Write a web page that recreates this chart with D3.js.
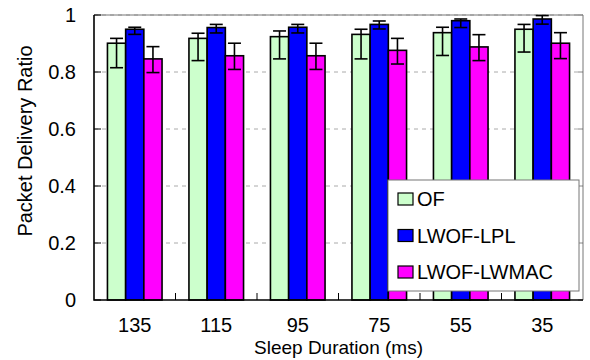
<!DOCTYPE html>
<html>
<head>
<meta charset="utf-8">
<script src="https://cdn.jsdelivr.net/npm/d3@7"></script>
<style>
  body { margin: 0; background: #fff; }
  svg { display: block; font-family: "Liberation Sans", Arial, sans-serif; }
</style>
</head>
<body>
<div id="chart"></div>
<script>
// sleep durations (ms) on the x axis
const groups = ["135", "115", "95", "75", "55", "35"];
const seriesNames = ["OF", "LWOF-LPL", "LWOF-LWMAC"];
const seriesColors = ["#ccffcc", "#0000ff", "#ff00ff"];

// packet delivery ratio, with error bar bounds
const ofVals  = [0.901, 0.918, 0.924, 0.932, 0.938, 0.950];
const ofLow   = [0.815, 0.840, 0.846, 0.846, 0.858, 0.870];
const ofHigh  = [0.918, 0.936, 0.944, 0.950, 0.957, 0.967];
const lplVals = [0.950, 0.956, 0.957, 0.967, 0.980, 0.986];
const lplLow  = [0.932, 0.937, 0.937, 0.951, 0.956, 0.968];
const lplHigh = [0.957, 0.967, 0.967, 0.979, 0.986, 0.998];
const macVals = [0.846, 0.857, 0.857, 0.876, 0.888, 0.901];
const macLow  = [0.798, 0.809, 0.809, 0.828, 0.840, 0.847];
const macHigh = [0.889, 0.901, 0.901, 0.918, 0.931, 0.938];

const yTicks = [0, 0.2, 0.4, 0.6, 0.8, 1];
const yTickLabels = ["0", "0.2", "0.4", "0.6", "0.8", "1"];

const seriesData = [
  { vals: ofVals, low: ofLow, high: ofHigh },
  { vals: lplVals, low: lplLow, high: lplHigh },
  { vals: macVals, low: macLow, high: macHigh }
];

const W = 590, H = 360;
const margin = { top: 15, right: 7, bottom: 60, left: 94 };
const width = W - margin.left - margin.right;
const height = H - margin.top - margin.bottom;

const svg = d3.select("#chart").append("svg")
  .attr("width", W)
  .attr("height", H);

const g = svg.append("g")
  .attr("transform", `translate(${margin.left},${margin.top})`);

const x0 = d3.scaleBand()
  .domain(groups)
  .range([0, width])
  .paddingInner(0.33)
  .paddingOuter(0.165);

const x1 = d3.scaleBand()
  .domain(d3.range(seriesNames.length))
  .range([0, x0.bandwidth()]);

const y = d3.scaleLinear().domain([0, 1]).range([height, 0]);

// grid lines
g.append("g")
  .selectAll("line")
  .data(yTicks.filter(d => d > 0))
  .join("line")
  .attr("x1", 0)
  .attr("x2", width)
  .attr("y1", d => y(d))
  .attr("y2", d => y(d))
  .attr("stroke", "#aaa")
  .attr("stroke-width", 1)
  .attr("stroke-dasharray", "4,4");

// border (top and right in gray)
g.append("path")
  .attr("d", `M0,0H${width}V${height}`)
  .attr("fill", "none")
  .attr("stroke", "#777")
  .attr("stroke-width", 1);

// tick marks on left and right
g.append("g")
  .selectAll("line")
  .data(yTicks)
  .join("line")
  .attr("x1", 0).attr("x2", 7)
  .attr("y1", d => y(d)).attr("y2", d => y(d))
  .attr("stroke", "#000");
g.append("g")
  .selectAll("line")
  .data(yTicks)
  .join("line")
  .attr("x1", width - 5).attr("x2", width)
  .attr("y1", d => y(d)).attr("y2", d => y(d))
  .attr("stroke", "#888");

// bars
const groupSel = g.selectAll(".grp")
  .data(groups)
  .join("g")
  .attr("class", "grp")
  .attr("transform", d => `translate(${x0(d)},0)`);

seriesData.forEach((s, si) => {
  groupSel.append("rect")
    .attr("x", x1(si))
    .attr("y", (d, i) => y(s.vals[i]))
    .attr("width", x1.bandwidth())
    .attr("height", (d, i) => y(0) - y(s.vals[i]))
    .attr("fill", seriesColors[si])
    .attr("stroke", "#000")
    .attr("stroke-width", 1.6);
});

// error bars
const capW = 13;
seriesData.forEach((s, si) => {
  const cx = x1(si) + x1.bandwidth() / 2;
  const eb = groupSel.append("g")
    .attr("stroke", "#000")
    .attr("stroke-width", 1.6);
  eb.append("line")
    .attr("x1", cx).attr("x2", cx)
    .attr("y1", (d, i) => y(s.low[i]))
    .attr("y2", (d, i) => y(s.high[i]));
  eb.append("line")
    .attr("x1", cx - capW / 2).attr("x2", cx + capW / 2)
    .attr("y1", (d, i) => y(s.low[i]))
    .attr("y2", (d, i) => y(s.low[i]));
  eb.append("line")
    .attr("x1", cx - capW / 2).attr("x2", cx + capW / 2)
    .attr("y1", (d, i) => y(s.high[i]))
    .attr("y2", (d, i) => y(s.high[i]));
});

// left and bottom axis lines
g.append("path")
  .attr("d", `M0,0V${height}H${width}`)
  .attr("fill", "none")
  .attr("stroke", "#000")
  .attr("stroke-width", 1.6);

// small ticks between groups
g.append("g")
  .selectAll("line")
  .data(groups.slice(1))
  .join("line")
  .attr("x1", d => x0(d) - x0.step() * x0.paddingInner() / 2)
  .attr("x2", d => x0(d) - x0.step() * x0.paddingInner() / 2)
  .attr("y1", height)
  .attr("y2", height - 7)
  .attr("stroke", "#000");

// y tick labels
g.append("g")
  .selectAll("text")
  .data(yTicks)
  .join("text")
  .attr("x", -18)
  .attr("y", d => y(d))
  .attr("dy", "0.36em")
  .attr("text-anchor", "end")
  .attr("font-size", 20)
  .text((d, i) => yTickLabels[i]);

// x tick labels
g.append("g")
  .selectAll("text")
  .data(groups)
  .join("text")
  .attr("x", d => x0(d) + x0.bandwidth() / 2)
  .attr("y", height + 32)
  .attr("text-anchor", "middle")
  .attr("font-size", 20)
  .text(d => d);

// axis titles
svg.append("text")
  .attr("x", margin.left + width / 2)
  .attr("y", 354)
  .attr("text-anchor", "middle")
  .attr("font-size", 19)
  .text("Sleep Duration (ms)");

svg.append("text")
  .attr("transform", "translate(32,141) rotate(-90)")
  .attr("text-anchor", "middle")
  .attr("font-size", 20)
  .text("Packet Delivery Ratio");

// legend
const legend = svg.append("g");
legend.append("rect")
  .attr("x", 388).attr("y", 180)
  .attr("width", 191).attr("height", 111)
  .attr("fill", "#fff")
  .attr("stroke", "#777")
  .attr("stroke-width", 1);

const items = legend.selectAll(".item")
  .data(seriesNames)
  .join("g")
  .attr("class", "item")
  .attr("transform", (d, i) => `translate(0,${199 + i * 36.5})`);

items.append("rect")
  .attr("x", 398).attr("y", -6)
  .attr("width", 15).attr("height", 12)
  .attr("fill", (d, i) => seriesColors[i])
  .attr("stroke", "#000")
  .attr("stroke-width", 1.2);

items.append("text")
  .attr("x", 417)
  .attr("dy", "0.36em")
  .attr("font-size", 20)
  .text(d => d);
</script>
</body>
</html>
